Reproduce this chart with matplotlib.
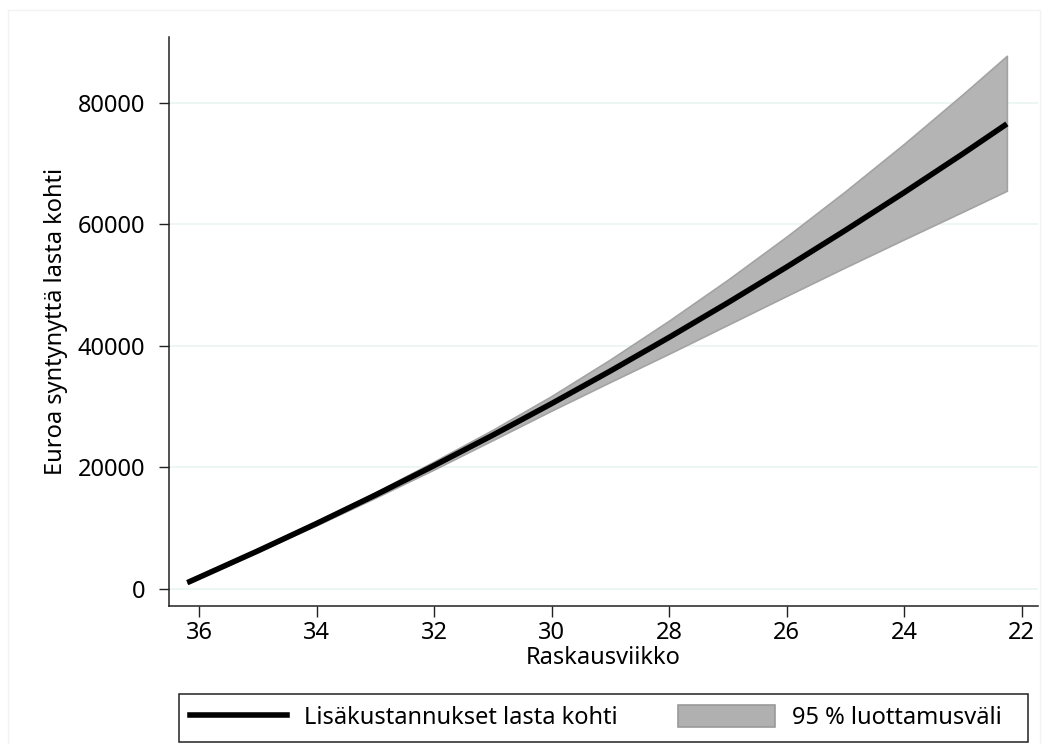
import matplotlib
matplotlib.use("Agg")
import matplotlib.pyplot as plt
from matplotlib.lines import Line2D
from matplotlib.patches import Patch, Rectangle

# ---- data ----
weeks = [36.2, 35, 34, 33, 32, 31, 30, 29, 28, 27, 26, 25, 24, 23, 22.25]
cost = [1040, 6260, 10770, 15440, 20290, 25300, 30490, 35850, 41380,
        47080, 52950, 58990, 65200, 71580, 76500]
ci_upper = [1090, 6420, 11080, 15910, 20970, 26190, 31740, 37760, 44140,
            50870, 57960, 65410, 73210, 81370, 87700]
ci_lower = [990, 6110, 10480, 15000, 19660, 24490, 29340, 34050, 38700,
            43450, 48200, 52900, 57500, 62050, 65500]

x_ticks = [36, 34, 32, 30, 28, 26, 24, 22]
y_ticks = [0, 20000, 40000, 60000, 80000]

line_label = "Lisäkustannukset lasta kohti"
band_label = "95 % luottamusväli"
x_label = "Raskausviikko"
y_label = "Euroa syntynyttä lasta kohti"

# ---- style ----
plt.rcParams['font.family'] = ['Noto Sans', 'DejaVu Sans']
FS = 17
W, H = 1048, 744
fig = plt.figure(figsize=(W / 100, H / 100), dpi=100)
fig.patch.set_facecolor('white')

# faint outer frame
fig.add_artist(Rectangle((8 / W, -0.01), (1040 - 8) / W, 1 - 10 / H + 0.01,
                         transform=fig.transFigure, fill=False,
                         edgecolor='#f0f2f3', linewidth=1.0))

ax = fig.add_axes([168.5 / W, 1 - 605.7 / H, (1038 - 168.5) / W,
                   (605.7 - 37.3) / H])

ax.fill_between(weeks, ci_lower, ci_upper, facecolor='#b4b4b4',
                edgecolor='#a3a3a3', linewidth=1.2, zorder=2)
ax.plot(weeks, cost, color='black', linewidth=4.0, solid_capstyle='butt',
        zorder=3)

ax.set_xlim(36.52, 21.72)
ax.set_ylim(-2750, 90740)
ax.set_xticks(x_ticks)
ax.set_yticks(y_ticks)
ax.set_yticklabels([str(v) for v in y_ticks])
ax.yaxis.grid(True, color='#eaf2f3', linewidth=1.1, zorder=0)
ax.set_axisbelow(True)

for s in ['top', 'right']:
    ax.spines[s].set_visible(False)
for s in ['left', 'bottom']:
    ax.spines[s].set_color('#222222')
    ax.spines[s].set_linewidth(1.1)

ax.tick_params(axis='y', direction='out', length=7.2, width=1.0,
               color='#222222', labelsize=FS, pad=9.5)
ax.tick_params(axis='x', direction='out', length=7.9, width=1.0,
               color='#222222', labelsize=FS, pad=3)

ax.set_xlabel(x_label, fontsize=FS, labelpad=1)
ax.set_ylabel(y_label, fontsize=FS, labelpad=7)

# legend frame (drawn separately so the box matches the reference)
box_x0, box_x1, box_y0, box_y1 = 179, 1028, 694, 741.7
fig.add_artist(Rectangle((box_x0 / W, 1 - box_y1 / H),
                         (box_x1 - box_x0) / W, (box_y1 - box_y0) / H,
                         transform=fig.transFigure, fill=False,
                         edgecolor='#222222', linewidth=1.1))

handles = [Line2D([0], [0], color='black', linewidth=4.0),
           Patch(facecolor='#b0b0b0', edgecolor='#9a9a9a', linewidth=1.2)]
fs_px = FS * 100 / 72.0


def make_legend(colsp):
    return fig.legend(handles, [line_label, band_label], ncol=2,
                      loc='center left',
                      bbox_to_anchor=(190 / W, 1 - (box_y0 + box_y1) / 2 / H),
                      fontsize=FS, frameon=False,
                      handlelength=97 / fs_px, handleheight=25 / fs_px,
                      handletextpad=16.5 / fs_px, borderpad=0,
                      borderaxespad=0, columnspacing=colsp)


leg = make_legend(2.0)
fig.canvas.draw()
t1_end = leg.get_texts()[0].get_window_extent().x1
leg.remove()
# columnspacing measured from end of text 1 to start of handle 2
leg = make_legend(max((678 - t1_end) / fs_px, 0.1))

fig.savefig('out.png', dpi=100, facecolor='white')
